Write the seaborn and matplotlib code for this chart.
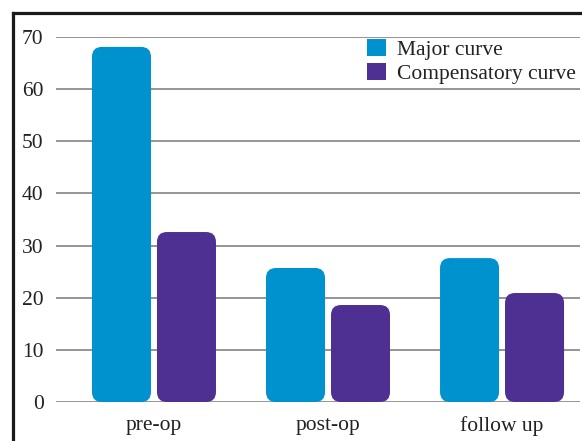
import matplotlib
matplotlib.use("Agg")
import matplotlib.pyplot as plt
import seaborn as sns
import pandas as pd
from matplotlib.patches import FancyBboxPatch, Patch
from matplotlib.lines import Line2D

categories = ["pre-op", "post-op", "follow up"]
series_names = ["Major curve", "Compensatory curve"]
major_curve = [68.1, 25.7, 27.6]
compensatory_curve = [32.6, 18.6, 20.9]
y_ticks = [0, 10, 20, 30, 40, 50, 60, 70]

colors = ["#0091cf", "#4e3092"]

df = pd.DataFrame({
    "period": categories * 2,
    "value": major_curve + compensatory_curve,
    "curve": [series_names[0]] * 3 + [series_names[1]] * 3,
})

sns.set_style("white")
plt.rcParams["font.family"] = ["Liberation Serif", "DejaVu Serif"]

fig = plt.figure(figsize=(5.82, 4.41), dpi=100)
W, H = 582, 441
ax = fig.add_axes([56 / W, (H - 402) / H, (580 - 56) / W, (402 - 37) / H])

sns.barplot(data=df, x="period", y="value", hue="curve", order=categories,
            hue_order=series_names, palette=colors, width=0.747, gap=0.092,
            ax=ax, legend=False, saturation=1)

ax.set_xlim(-0.563, 2.448)
ax.set_ylim(0, 70)

# replace bars with rounded ones
px_per_x = (580 - 56) / (2.448 + 0.563)
px_per_y = (402 - 37) / 70
r_px = 10
r_x = r_px / px_per_x
aspect = (r_px / px_per_y) / r_x
for p in list(ax.patches):
    x0, y0 = p.get_x(), p.get_y()
    w, h = p.get_width(), p.get_height()
    fc = p.get_facecolor()
    p.remove()
    fb = FancyBboxPatch((x0, y0), w, h,
                        boxstyle=f"round,pad=0,rounding_size={r_x}",
                        mutation_aspect=aspect, facecolor=fc, edgecolor="none",
                        zorder=3, clip_on=False)
    ax.add_patch(fb)

ax.set_yticks(y_ticks)
ax.yaxis.grid(True, color="#8c8c8c", linewidth=1.3)
ax.xaxis.grid(False)
ax.set_axisbelow(True)
for s in ax.spines.values():
    s.set_visible(False)
ax.tick_params(axis="both", length=0, labelsize=15.5, colors="#222222")
ax.tick_params(axis="y", pad=9)
ax.tick_params(axis="x", pad=10)
ax.set_xlabel("")
ax.set_ylabel("")

handles = [Patch(facecolor=c, edgecolor="none") for c in colors]
leg = fig.legend(handles, series_names, loc="upper left",
                 bbox_to_anchor=(367 / W, 1 - 39 / H), bbox_transform=fig.transFigure,
                 frameon=False, fontsize=15.5, handlelength=0.9, handleheight=0.85,
                 handletextpad=0.5, labelspacing=0.12, borderpad=0, borderaxespad=0)
for t in leg.get_texts():
    t.set_color("#222222")

# outer frame
fx = 13 / W
fy = 1 - 13 / H
fig.add_artist(Line2D([fx, fx], [0, fy], transform=fig.transFigure, color="#1a1a1a",
                      linewidth=2.3, solid_capstyle="projecting"))
fig.add_artist(Line2D([fx, 1.0], [fy, fy], transform=fig.transFigure, color="#1a1a1a",
                      linewidth=2.3, solid_capstyle="projecting"))

fig.savefig("out.png", dpi=100)
